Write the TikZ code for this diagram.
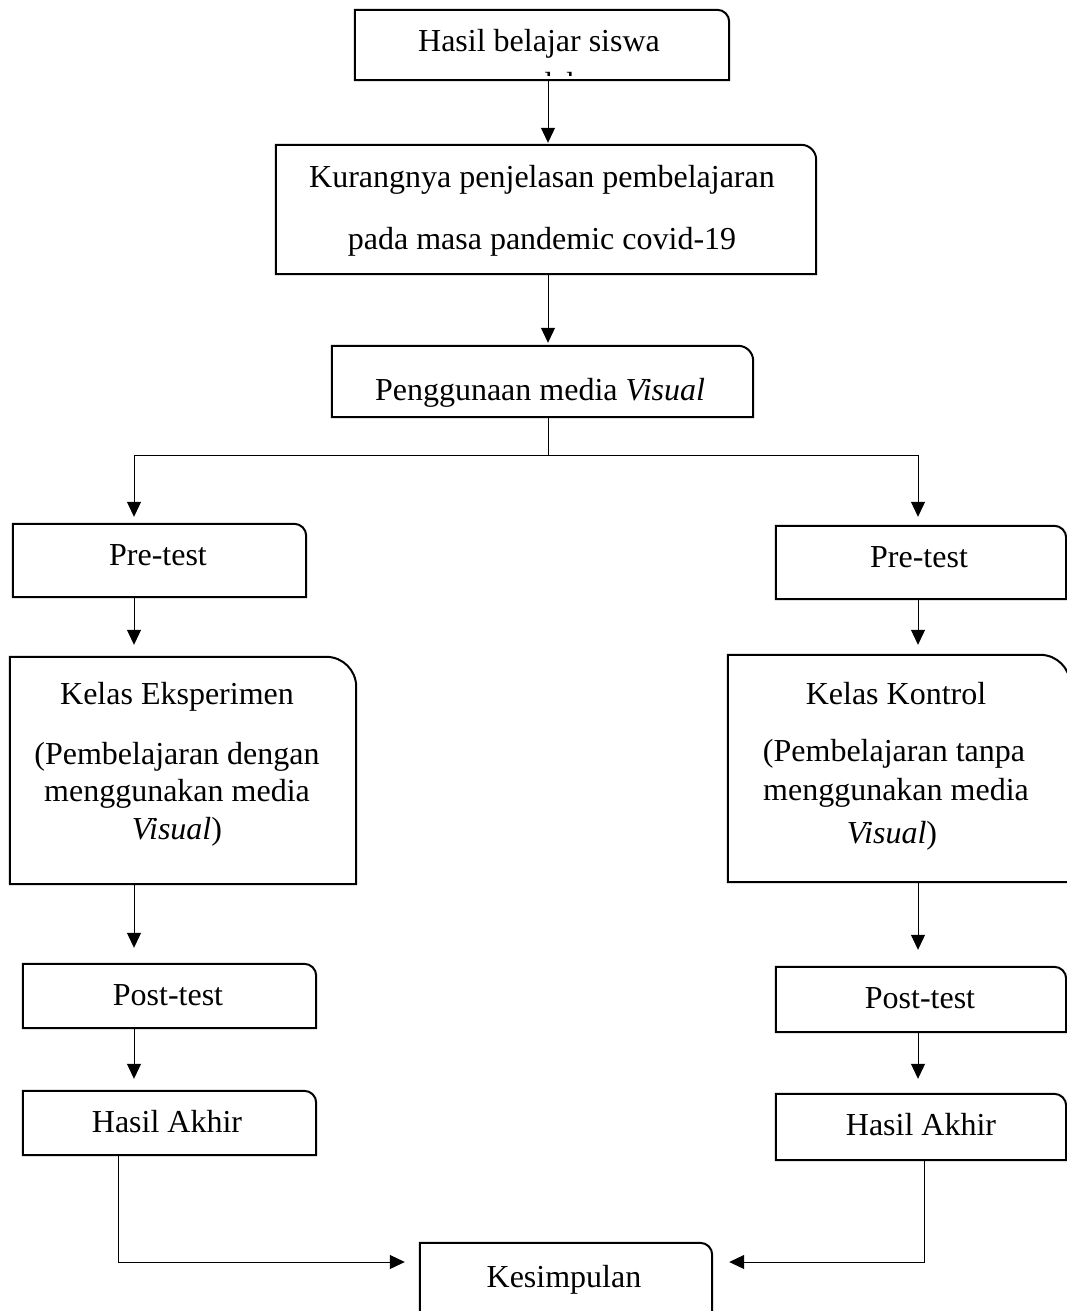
\documentclass[tikz,border=0pt]{standalone}
\usepackage{fontspec}
\setmainfont{Liberation Serif}
\usetikzlibrary{arrows.meta,calc}
\tikzset{
  boxn/.style={rectangle, inner sep=0pt, draw=none},
  txt/.style={anchor=base, inner sep=0pt, font=\fontsize{32}{38}\selectfont},
  conn/.style={line width=1pt},
  arr/.style={conn, -{Triangle[length=15pt,width=14pt]}},
  outline/.style={line width=2pt, line join=miter},
}
\newcommand\trbox[2]{\draw[outline] (#1.south west) -- (#1.north west) -- ([xshift=-#2]#1.north east) arc[start angle=90,end angle=0,radius=#2] -- (#1.south east) -- cycle;}
\begin{document}
\begin{tikzpicture}[x=1pt,y=1pt]
\useasboundingbox (0,0) rectangle (1067,-1311);
\clip (0,0) rectangle (1067,-1311);

% boxes
\node[boxn, minimum width=374pt, minimum height=70pt] (b1) at (542,-45) {};
\node[boxn, minimum width=540pt, minimum height=129pt] (b2) at (546,-209.5) {};
\node[boxn, minimum width=421pt, minimum height=71pt] (b3) at (542.5,-381.5) {};
\node[boxn, minimum width=293pt, minimum height=73pt] (pre1) at (159.5,-560.5) {};
\node[boxn, minimum width=290pt, minimum height=73pt] (pre2) at (921,-562.5) {};
\node[boxn, minimum width=346pt, minimum height=227pt] (kel1) at (183,-770.5) {};
\node[boxn, minimum width=342pt, minimum height=227pt] (kel2) at (899,-768.5) {};
\node[boxn, minimum width=293pt, minimum height=64pt] (post1) at (169.5,-996) {};
\node[boxn, minimum width=290pt, minimum height=65pt] (post2) at (921,-999.5) {};
\node[boxn, minimum width=293pt, minimum height=64pt] (ha1) at (169.5,-1123) {};
\node[boxn, minimum width=290pt, minimum height=66pt] (ha2) at (921,-1127) {};
\node[boxn, minimum width=292pt, minimum height=77pt] (kes) at (566,-1281.5) {};

\trbox{b1}{12pt}
\trbox{b2}{15pt}
\trbox{b3}{15pt}
\trbox{pre1}{12pt}
\trbox{pre2}{12pt}
\trbox{kel1}{30pt}
\trbox{kel2}{30pt}
\trbox{post1}{12pt}
\trbox{post2}{12pt}
\trbox{ha1}{12pt}
\trbox{ha2}{12pt}
\trbox{kes}{12pt}

% texts
\node[txt] (t1) at (539,-52) {Hasil belajar siswa};
\begin{scope}
  \clip (357,-12) rectangle (727,-76);
  \node[txt] (t1b) at (539,-95) {rendah};
\end{scope}
\node[txt] (t2a) at (542,-187) {Kurangnya penjelasan pembelajaran};
\node[txt] (t2b) at (542,-249) {pada masa pandemic covid-19};
\node[txt] (t3) at (540,-400) {Penggunaan media \textit{Visual}};
\node[txt] (tp1) at (158,-565) {Pre-test};
\node[txt] (tp2) at (919,-567) {Pre-test};
\node[txt] (tk1a) at (177,-704) {Kelas Eksperimen};
\node[txt] (tk1b) at (177,-764) {(Pembelajaran dengan};
\node[txt] (tk1c) at (177,-801) {menggunakan media};
\node[txt] (tk1d) at (177,-839) {\textit{Visual})};
\node[txt] (tk2a) at (896,-704) {Kelas Kontrol};
\node[txt] (tk2b) at (894,-761) {(Pembelajaran tanpa};
\node[txt] (tk2c) at (896,-800) {menggunakan media};
\node[txt] (tk2d) at (892,-843) {\textit{Visual})};
\node[txt] (tq1) at (168,-1005) {Post-test};
\node[txt] (tq2) at (920,-1008) {Post-test};
\node[txt] (th1) at (167,-1132) {Hasil Akhir};
\node[txt] (th2) at (921,-1135) {Hasil Akhir};
\node[txt] (tks) at (564,-1287) {Kesimpulan};

% helper coordinates
\coordinate (xc) at (548,0);
\coordinate (xl) at (134,0);
\coordinate (xr) at (918,0);
\coordinate (xl2) at (118,0);
\coordinate (xr2) at (924,0);
\coordinate (sp) at (548,-455);
\coordinate (yk) at (0,-1262);

% connectors
\draw[arr, shorten >=2pt] (b1.south -| xc) -- (b2.north -| xc);
\draw[arr, shorten >=3pt] (b2.south -| xc) -- (b3.north -| xc);
\draw[conn] (b3.south -| xc) -- (sp);
\draw[arr, shorten >=7pt] (sp) -| (pre1.north -| xl);
\draw[arr, shorten >=9pt] (sp) -| (pre2.north -| xr);
\draw[arr, shorten >=12pt] (pre1.south -| xl) -- (kel1.north -| xl);
\draw[arr, shorten >=10pt] (pre2.south -| xr) -- (kel2.north -| xr);
\draw[arr, shorten >=16pt] (kel1.south -| xl) -- (post1.north -| xl);
\draw[arr, shorten >=17pt] (kel2.south -| xr) -- (post2.north -| xr);
\draw[arr, shorten >=12pt] (post1.south -| xl) -- (ha1.north -| xl);
\draw[arr, shorten >=15pt] (post2.south -| xr) -- (ha2.north -| xr);
\draw[arr, shorten >=15pt] (ha1.south -| xl2) |- (kes.west |- yk);
\draw[arr, shorten >=17pt] (ha2.south -| xr2) |- (kes.east |- yk);
\end{tikzpicture}
\end{document}
